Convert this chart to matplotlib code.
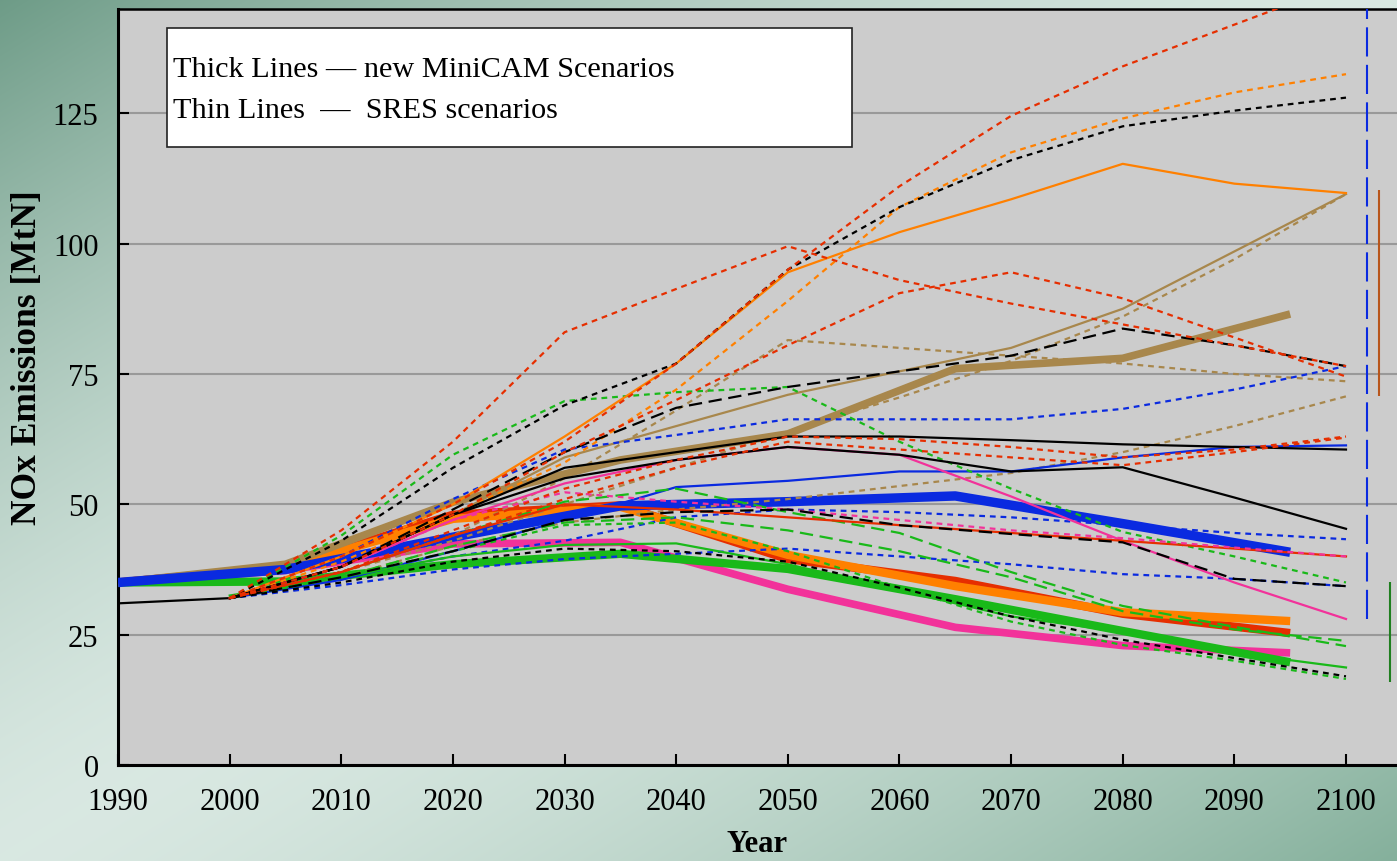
import numpy as np
import matplotlib.pyplot as plt
from matplotlib.patches import Rectangle

plt.rcParams['font.family'] = ['Liberation Serif', 'DejaVu Serif']

# ---- historical emissions ----
years_hist = [1990, 2000]
hist = [31, 32]

# ---- new MiniCAM scenarios (thick lines, 15-year steps) ----
years_mc = [1990, 2005, 2020, 2035, 2050, 2065, 2080, 2095]
mc_red = [35, 38, 48, 49.8, 39.5, 35.3, 29, 25.3]
mc_pink = [35, 37.3, 42.4, 42.7, 33.7, 26.4, 22.9, 21.5]
mc_orange = [35, 38, 47.2, 49.5, 40.3, 34.3, 29.3, 27.6]
mc_green = [35, 35.2, 38.5, 40.5, 37.6, 31.8, 25.7, 19.7]
mc_brown = [35, 38.5, 50.4, 58.5, 63.5, 76, 78, 86.5]
mc_blue = [35, 37.5, 43.7, 49.7, 50.5, 51.6, 46.3, 40.8]

# ---- SRES scenarios (thin lines, decades) ----
years_sres = [2000, 2010, 2020, 2030, 2040, 2050, 2060, 2070, 2080, 2090, 2100]
red_dot_a = [32, 45, 62, 83, 91.3, 99.5, 93, 88.5, 84.5, 80.5, 76.5]
red_dot_b = [32, 40, 50, 62, 77, 95, 111, 124.5, 134, 142, 150]
red_dot_c = [32, 38, 48, 60, 70, 80.5, 90.5, 94.5, 89.5, 82, 74.5]
red_dot_d = [32, 37, 45, 53, 58.5, 63, 62.5, 61, 59, 60.5, 63]
red_dot_e = [32, 37, 44, 51, 57, 62, 60.5, 59, 57.5, 60, 62.8]
red_solid = [32, 37, 44, 50, 49, 47.5, 46, 44.5, 43, 41.5, 40]
orange_solid = [32, 40, 50, 63, 77, 94.5, 102.2, 108.5, 115.3, 111.5, 109.7]
orange_dot = [32, 39, 48, 58, 72, 89, 107, 117.5, 124, 129, 132.5]
black_dot_hi = [32, 43, 57, 69, 77, 95, 107, 116, 122.5, 125.5, 128]
black_dash_hi = [32, 38, 49, 60, 68.5, 72.5, 75.5, 78.5, 83.7, 80.5, 76.5]
black_dash_lo = [32, 36, 41, 47, 48.5, 49, 46, 44.3, 42.7, 35.7, 34.3]
black_dot_lo = [32, 35, 39, 41.5, 41, 39, 34, 28.5, 24, 20.5, 17]
black_solid_a = [32, 38, 48, 55, 58.5, 61, 59.5, 56.3, 57.1, 51.3, 45.3]
black_solid_b = [32, 38, 48, 57, 60, 63, 63, 62.3, 61.5, 61, 60.5]
pink_solid = [32, 38, 47, 54, 58.5, 61, 59.5, 51.5, 43, 35, 28]
pink_dot = [32, 38, 47, 52.3, 50.5, 49, 47, 45, 43.5, 41.7, 40]
brown_solid = [32, 38, 48, 59, 65, 71, 75.5, 80, 87.5, 98.5, 109.5]
brown_dot_a = [32, 37, 44, 55, 68, 81.5, 80, 78.5, 77, 75, 73.6]
brown_dot_b = [32, 37, 43, 50, 57, 64, 70.5, 77.5, 86, 97, 109.5]
brown_dot_c = [32, 36, 42, 46.5, 49, 51, 53.5, 56, 60, 65, 70.7]
blue_solid = [32, 35.5, 41, 47, 53.3, 54.5, 56.3, 56.3, 59, 61, 61.3]
blue_dot_a = [32, 40, 51, 60.5, 63.3, 66.3, 66.3, 66.3, 68.3, 72, 76.5]
blue_dot_b = [32, 36, 40, 43, 47.5, 49, 48.5, 47.5, 46, 44.5, 43.3]
blue_dot_c = [32, 34.5, 37.5, 39.5, 40.5, 41.5, 40, 38.5, 36.6, 35.7, 34.3]
green_solid = [32.5, 36, 40, 42.2, 42.5, 38.5, 33.5, 28.5, 25.5, 21.5, 18.7]
green_dash_a = [32, 37, 44, 50.5, 53, 48.5, 44.5, 37, 30.5, 26.5, 22.8]
green_dash_b = [32, 36, 42, 46.5, 47.5, 45, 41, 36, 29.5, 26, 23.8]
green_dot_a = [32, 44, 59.5, 69.8, 71.5, 72.5, 62, 53, 44.7, 40, 35]
green_dot_b = [32, 36, 41, 46, 46.5, 41, 34, 27.5, 23, 20, 16.5]

# ---- 2100 ranges drawn at the right edge ----
range_x = [2101.9, 2103.0, 2103.9]
range_lo = [28, 70.7, 15.9]
range_hi = [150, 110.2, 35.1]

RED = '#E62E00'
ORANGE = '#FF8000'
BLACK = '#000000'
BROWN = '#A8874C'
BLUE = '#0A2AE0'
GREEN = '#19B919'
PINK = '#F2329A'

DOT = (0, (2.6, 2.2))
DASH = (0, (6, 3))

thick = [
    (mc_red, RED, 6), (mc_pink, PINK, 5.5), (mc_orange, ORANGE, 6),
    (mc_green, GREEN, 6), (mc_brown, BROWN, 5.5), (mc_blue, BLUE, 6.8),
]
thin = [
    (brown_dot_c, BROWN, DOT), (brown_dot_b, BROWN, DOT), (brown_dot_a, BROWN, DOT),
    (brown_solid, BROWN, '-'),
    (blue_dot_a, BLUE, DOT), (blue_dot_b, BLUE, DOT), (blue_dot_c, BLUE, DOT),
    (blue_solid, BLUE, '-'),
    (green_dot_a, GREEN, DOT), (green_dot_b, GREEN, DOT),
    (green_dash_a, GREEN, DASH), (green_dash_b, GREEN, DASH),
    (green_solid, GREEN, '-'),
    (orange_solid, ORANGE, '-'), (orange_dot, ORANGE, DOT),
    (pink_solid, PINK, '-'),
    (black_solid_a, BLACK, '-'), (black_solid_b, BLACK, '-'),
    (red_solid, RED, '-'), (pink_dot, PINK, DOT),
    (black_dot_hi, BLACK, DOT), (black_dot_lo, BLACK, DOT),
    (black_dash_hi, BLACK, DASH), (black_dash_lo, BLACK, DASH),
    (red_dot_a, RED, DOT), (red_dot_b, RED, DOT), (red_dot_c, RED, DOT),
    (red_dot_d, RED, DOT), (red_dot_e, RED, DOT),
]

fig = plt.figure(figsize=(13.97, 8.62), dpi=100)

# diagonal green gradient behind everything
h, w = 862, 1397
yy, xx = np.mgrid[0:1:h * 1j, 0:1:w * 1j]
s = (xx + yy) / 2
t = (np.abs(s - 0.5) * 2) ** 1.5
light = np.array([0.85, 0.91, 0.885])
dark = np.where((s < 0.5)[..., None], np.array([0.43, 0.61, 0.53]),
                np.array([0.52, 0.69, 0.61]))
img = light + (dark - light) * t[..., None]
bg = fig.add_axes([0, 0, 1, 1], zorder=-10)
bg.imshow(img, aspect='auto', extent=[0, 1, 0, 1], origin='upper')
bg.axis('off')

ax = fig.add_axes([0.0845, 0.1114, 0.9155, 0.8770])
ax.set_facecolor('#CCCCCC')
ax.set_xlim(1990, 2104.57)
ax.set_ylim(0, 145)

ax.plot(years_hist, hist, color=BLACK, lw=1.6, zorder=4)
for vals, col, lw in thick:
    ax.plot(years_mc, vals, color=col, lw=lw, solid_capstyle='butt',
            solid_joinstyle='round', zorder=3)
for vals, col, ls in thin:
    ax.plot(years_sres, vals, color=col, lw=1.6, linestyle=ls, zorder=4)

ax.vlines(range_x[0], range_lo[0], range_hi[0], color=BLUE, lw=1.5,
          linestyles=[(0, (14, 4))], zorder=4)
ax.vlines(range_x[1], range_lo[1], range_hi[1], color='#B8561C', lw=1.5, zorder=4)
ax.vlines(range_x[2], range_lo[2], range_hi[2], color='#1F7F1F', lw=1.5, zorder=4)

ax.set_yticks([0, 25, 50, 75, 100, 125])
ax.set_xticks(range(1990, 2101, 10))
ax.grid(axis='y', color='#999999', lw=1.5)
ax.set_axisbelow(True)
ax.tick_params(direction='in', length=8, width=1.5, labelsize=22, pad=14)
ax.tick_params(axis='x', pad=16)
for side in ['left', 'bottom']:
    ax.spines[side].set_linewidth(2.2)
ax.spines['top'].set_linewidth(1.8)
ax.spines['right'].set_visible(False)

ax.set_xlabel('Year', fontsize=22, fontweight='bold', labelpad=9)
fig.text(0.0195, 0.585, 'NOx Emissions [MtN]', rotation=90, ha='center',
         va='center', fontsize=25.5, fontweight='bold')

# caption box for the two line families
ax.add_patch(Rectangle((0.0383, 0.8175), 0.5356, 0.1574, transform=ax.transAxes,
                       facecolor='white', edgecolor='#222222', lw=1.2, zorder=6))
ax.text(0.043, 0.9114, 'Thick Lines — new MiniCAM Scenarios', transform=ax.transAxes,
        fontsize=21.8, va='baseline', zorder=7)
ax.text(0.043, 0.8571, 'Thin Lines  —  SRES scenarios', transform=ax.transAxes,
        fontsize=21.8, va='baseline', zorder=7)

fig.savefig('out.png', dpi=100)
